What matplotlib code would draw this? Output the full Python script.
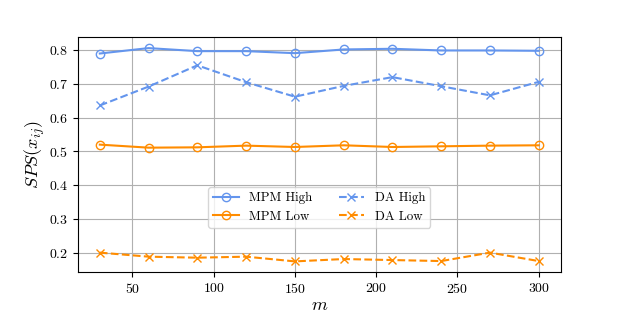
import matplotlib
matplotlib.use("Agg")
import matplotlib.pyplot as plt

plt.rcParams['font.family'] = 'serif'
plt.rcParams['font.serif'] = ['cmr10']
plt.rcParams['mathtext.fontset'] = 'cm'
plt.rcParams['axes.formatter.use_mathtext'] = True

# Data
m_values = [30, 60, 90, 120, 150, 180, 210, 240, 270, 300]
mpm_high = [0.790, 0.806, 0.797, 0.797, 0.791, 0.802, 0.804, 0.799, 0.799, 0.798]
da_high = [0.636, 0.692, 0.755, 0.705, 0.662, 0.694, 0.720, 0.693, 0.666, 0.706]
mpm_low = [0.520, 0.511, 0.512, 0.517, 0.513, 0.518, 0.513, 0.515, 0.517, 0.518]
da_low = [0.200, 0.188, 0.185, 0.188, 0.174, 0.181, 0.178, 0.175, 0.200, 0.175]

high_color = 'cornflowerblue'
low_color = 'darkorange'

fig, ax = plt.subplots(figsize=(6.23, 3.12), dpi=100)
fig.subplots_adjust(left=0.125, right=0.9, top=0.88, bottom=0.128)

ax.plot(m_values, mpm_high, '-o', color=high_color, fillstyle='none', label='MPM High')
ax.plot(m_values, mpm_low, '-o', color=low_color, fillstyle='none', label='MPM Low')
ax.plot(m_values, da_high, '--x', color=high_color, label='DA High')
ax.plot(m_values, da_low, '--x', color=low_color, label='DA Low')

ax.set_xlabel('$m$', fontsize=13, labelpad=1)
ax.set_ylabel('$SPS(x_{ij})$', fontsize=13, labelpad=1)
ax.grid(True)
ax.legend(ncol=2, loc='center', bbox_to_anchor=(0.5, 0.275), fontsize=9.3)

fig.savefig('out.png', dpi=100)
